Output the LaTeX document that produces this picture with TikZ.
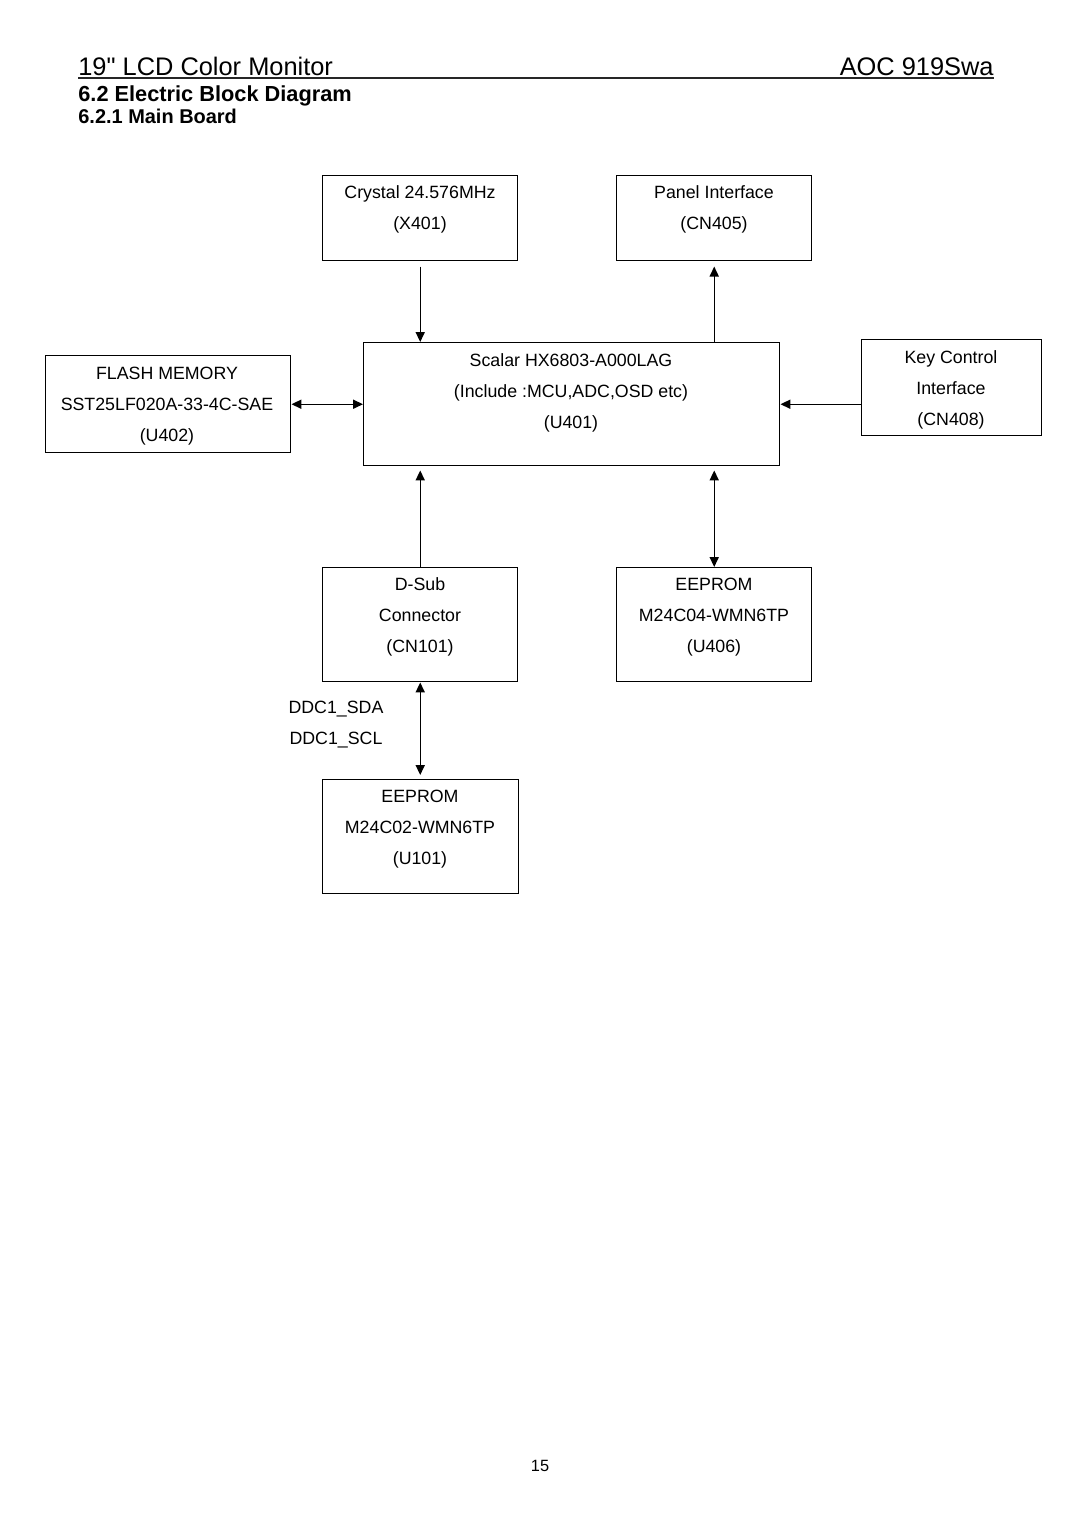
\documentclass[tikz,border=0pt]{standalone}
\usepackage{fontspec}
\setmainfont{Liberation Sans}
\usetikzlibrary{arrows.meta}
\begin{document}
\begin{tikzpicture}[x=0.5512pt,y=-0.5512pt,
  box/.style n args={2}{draw, line width=0.8pt, inner sep=0pt, anchor=north west,
    minimum width=#1*0.5512pt, minimum height=#2*0.5512pt},
  txt/.style={align=center, font=\fontsize{9.8}{17.09}\selectfont, inner sep=0pt},
  tip/.tip={Triangle[length=5.5pt,width=5pt]},
  conn/.style={line width=0.8pt, -tip},
  bconn/.style={line width=0.8pt, tip-tip}]
\useasboundingbox[fill=white] (0,0) rectangle (1080,1528);

% header
\node[anchor=base west, inner sep=0pt, font=\fontsize{14}{16}\selectfont] (title) at (78,75) {19\textquotedbl{} LCD Color Monitor};
\node[anchor=base east, inner sep=0pt, font=\fontsize{14}{16}\selectfont] (model) at (994,75) {AOC 919Swa};
\coordinate (hl) at (78,78);
\coordinate (hr) at (994,78);
\draw[line width=1.1pt, black!85] (hl) -- (hr);
\node[anchor=base west, inner sep=0pt, font=\bfseries\fontsize{12}{14}\selectfont] (sec) at (78,101) {6.2 Electric Block Diagram};
\node[anchor=base west, inner sep=0pt, font=\bfseries\fontsize{11}{13}\selectfont] (subsec) at (78,123) {6.2.1 Main Board};

% boxes
\node[box={195}{85}] (crys) at (322,175) {};
\node[box={195}{85}] (panel) at (616,175) {};
\node[box={416}{123}] (scal) at (363,342) {};
\node[box={245}{97}] (flash) at (45,355) {};
\node[box={180}{96}] (key) at (861,339) {};
\node[box={195}{114}] (dsub) at (322,567) {};
\node[box={195}{114}] (eep) at (616,567) {};
\node[box={196}{114}] (eepb) at (322,779) {};

% texts
\node[txt] (tcrys) at (420,209.5) {Crystal 24.576MHz\\(X401)};
\node[txt] (tpanel) at (714,209.5) {Panel Interface\\(CN405)};
\node[txt] (tscal) at (571,392.5) {Scalar HX6803-A000LAG\\(Include :MCU,ADC,OSD etc)\\(U401)};
\node[txt] (tflash) at (167,406) {FLASH MEMORY\\SST25LF020A-33-4C-SAE\\(U402)};
\node[txt] (tkey) at (951,389.5) {Key Control\\Interface\\(CN408)};
\node[txt] (tdsub) at (420,617) {D-Sub\\Connector\\(CN101)};
\node[txt] (teep) at (714,617) {EEPROM\\M24C04-WMN6TP\\(U406)};
\node[txt] (teepb) at (420,829.5) {EEPROM\\M24C02-WMN6TP\\(U101)};
\node[txt] (sda) at (336,709) {DDC1\_SDA};
\node[txt] (scl) at (336,740) {DDC1\_SCL};
\node[inner sep=0pt, font=\fontsize{9}{11}\selectfont] (page) at (540,1466) {15};

% connectors
\draw[conn] ([yshift=-2.8pt]crys.south) -- (crys.south |- scal.north);
\draw[conn] (panel.south |- scal.north) -- ([yshift=-2.8pt]panel.south);
\draw[bconn] (flash.east) -- (flash.east -| scal.west);
\draw[conn] (key.west |- scal.east) -- (scal.east);
\draw[conn] (dsub.north) -- ([yshift=-2.2pt]dsub.north |- scal.south);
\draw[bconn] ([yshift=-2.2pt]eep.north |- scal.south) -- (eep.north);
\draw[bconn] (dsub.south) -- ([yshift=2.2pt]dsub.south |- eepb.north);
\end{tikzpicture}
\end{document}
